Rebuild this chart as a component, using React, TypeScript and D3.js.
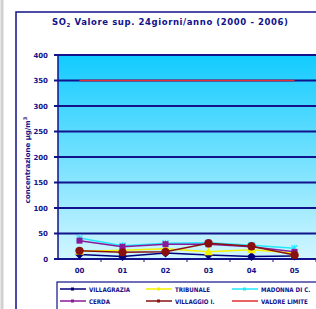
import React from "react";
import * as d3 from "d3";

const years = ["00", "01", "02", "03", "04", "05"];
const yTicks = [0, 50, 100, 150, 200, 250, 300, 350, 400];
const villagrazia = [9, 5, 12, 8, 5, 6];
const tribunale = [15, 17, 20, 14, 18, 12];
const madonna = [41, 26, 31, 32, 27, 21];
const cerda = [36, 24, 29, 29, 24, 14];
const villaggio = [16, 13, 14, 31, 25, 8];
const limite = [350, 350, 350, 350, 350, 350];
const seriesNames = ["VILLAGRAZIA", "TRIBUNALE", "MADONNA DI C.", "CERDA", "VILLAGGIO I.", "VALORE LIMITE"];

const NAVY = "#12128a";

export default function App() {
  const left = 58, right = 316, top = 55, bottom = 259;
  const x = d3.scaleBand<string>().domain(years).range([left, right]);
  const y = d3.scaleLinear().domain([0, 400]).range([bottom, top]);
  const cx = (i: number) => (x(years[i]) as number) + x.bandwidth() / 2;
  const line = d3.line<number>().x((_, i) => cx(i)).y((d) => y(d));

  const series = [
    { name: seriesNames[0], data: villagrazia, color: "#00007a", marker: "diamond" },
    { name: seriesNames[1], data: tribunale, color: "#f5f000", marker: "triangle" },
    { name: seriesNames[2], data: madonna, color: "#22e8ff", marker: "x" },
    { name: seriesNames[3], data: cerda, color: "#8a1a9a", marker: "square" },
    { name: seriesNames[4], data: villaggio, color: "#8a1010", marker: "circle" },
    { name: seriesNames[5], data: limite, color: "#e03030", marker: "none" },
  ];

  const drawMarker = (kind: string, px: number, py: number, color: string, key: string) => {
    switch (kind) {
      case "diamond":
        return <path key={key} d={`M${px},${py - 4.5}L${px + 4.5},${py}L${px},${py + 4.5}L${px - 4.5},${py}Z`} fill={color} />;
      case "triangle":
        return <path key={key} d={`M${px},${py - 4.5}L${px + 4.5},${py + 3.5}L${px - 4.5},${py + 3.5}Z`} fill={color} />;
      case "x":
        return <path key={key} d={`M${px - 3},${py - 3}L${px + 3},${py + 3}M${px + 3},${py - 3}L${px - 3},${py + 3}M${px},${py - 3.5}L${px},${py + 3.5}`} stroke={color} strokeWidth={1.2} />;
      case "square":
        return <rect key={key} x={px - 3} y={py - 3} width={6} height={6} fill={color} />;
      case "circle":
        return <circle key={key} cx={px} cy={py} r={4.2} fill={color} />;
      default:
        return null;
    }
  };

  const legendCols = [60, 146, 232];
  const legendRows = [289, 301];

  return (
    <svg width={316} height={309} style={{ position: "absolute", left: 0, top: 0, background: "#fff" }}
      fontFamily="'DejaVu Sans', sans-serif">
      <defs>
        <linearGradient id="bg" x1="0" y1="0" x2="0" y2="1">
          <stop offset="0%" stopColor="#12cbff" />
          <stop offset="100%" stopColor="#d2f6ff" />
        </linearGradient>
      </defs>
      <rect x={0} y={0} width={316} height={309} fill="#fff" />
      <line x1={2} y1={0} x2={2} y2={309} stroke="#d0d0d0" strokeWidth={3} />
      <rect x={16} y={12} width={310} height={310} fill="#fff" stroke={NAVY} strokeWidth={1.5} />
      <text x={52} y={25} fontSize={8.5} fontWeight="bold" fill={NAVY} textLength={236} lengthAdjust="spacing">
        SO<tspan fontSize={5.5} dy={2}>2</tspan><tspan dy={-2}> Valore sup. 24giorni/anno (2000 - 2006)</tspan>
      </text>
      <rect x={left} y={top} width={right - left} height={bottom - top} fill="url(#bg)" />
      {yTicks.map((t) => (
        <g key={t}>
          <line x1={left - 4} x2={right} y1={y(t)} y2={y(t)} stroke={NAVY} strokeWidth={1.8} />
          <text x={48} y={y(t) + 2.5} textAnchor="end" fontSize={7} fontWeight="bold" fill={NAVY}>{t}</text>
        </g>
      ))}
      <line x1={left} x2={left} y1={top} y2={bottom + 1} stroke={NAVY} strokeWidth={1.5} />
      {years.map((yr, i) => (
        <g key={yr}>
          <line x1={(x(yr) as number) + x.bandwidth()} x2={(x(yr) as number) + x.bandwidth()} y1={bottom} y2={bottom + 3} stroke={NAVY} strokeWidth={1} />
          <text x={cx(i)} y={bottom + 14} textAnchor="middle" fontSize={7} fontWeight="bold" fill={NAVY}>{yr}</text>
        </g>
      ))}
      <text transform={`translate(30,160) rotate(-90)`} textAnchor="middle" fontSize={7} fontWeight="bold" fill={NAVY}>
        concentrazione µg/m<tspan fontSize={5} dy={-3}>3</tspan>
      </text>
      {series.map((s) => (
        <g key={s.name}>
          <path d={line(s.data) || ""} fill="none" stroke={s.color} strokeWidth={1.5} />
          {s.data.map((v, i) => drawMarker(s.marker, cx(i), y(v), s.color, s.name + i))}
        </g>
      ))}
      <rect x={57} y={282} width={270} height={40} fill="#fff" stroke={NAVY} strokeWidth={1.2} />
      {series.map((s, i) => {
        const lx = legendCols[i % 3];
        const ly = legendRows[Math.floor(i / 3)];
        return (
          <g key={"lg" + s.name}>
            <line x1={lx} x2={lx + 26} y1={ly} y2={ly} stroke={s.color} strokeWidth={1.5} />
            {s.marker !== "none" && <rect x={lx + 11} y={ly - 1.5} width={3} height={3} fill={s.color} />}
            <text transform={`translate(${lx + 29},${ly + 2.5}) scale(0.88,1)`} fontSize={6.3} fontWeight="bold" fill={NAVY}>{s.name}</text>
          </g>
        );
      })}
    </svg>
  );
}
